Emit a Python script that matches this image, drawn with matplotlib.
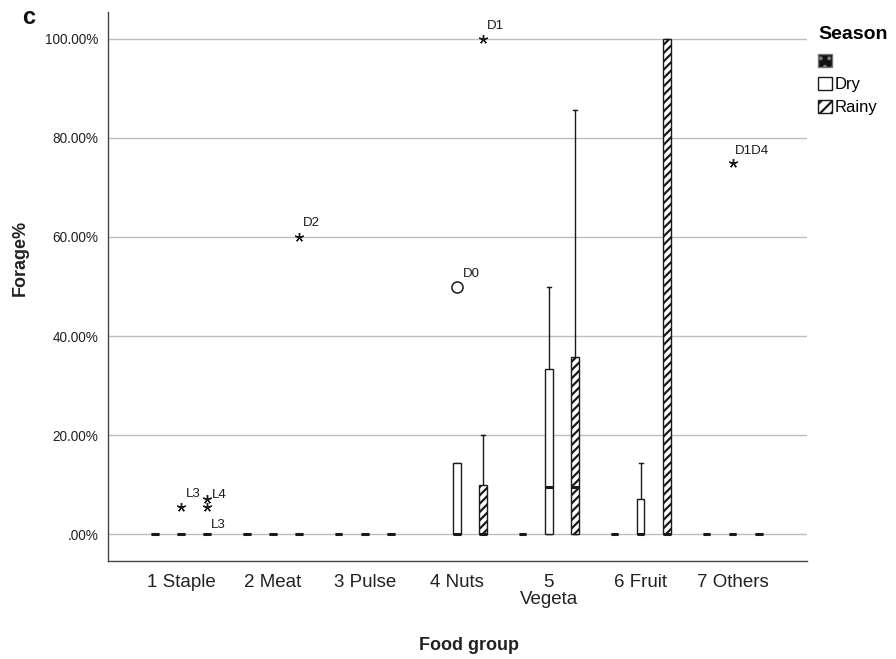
import matplotlib
matplotlib.use("Agg")
import matplotlib.pyplot as plt
from matplotlib.patches import Patch
from matplotlib.ticker import FuncFormatter

plt.rcParams['font.family'] = ['Liberation Sans', 'DejaVu Sans']
plt.rcParams['hatch.linewidth'] = 1.6

# data (Forage % by food group and season)
categories = ["1 Staple", "2 Meat", "3 Pulse", "4 Nuts", "5\nVegeta", "6 Fruit", "7 Others"]
seasons = ["", "Dry", "Rainy"]

# first (unnamed) season group -- None means no cases
blank_q1 = [0, 0, 0, None, 0, 0, 0]
blank_med = [0, 0, 0, None, 0, 0, 0]
blank_q3 = [0, 0, 0, None, 0, 0, 0]
blank_hi = [0, 0, 0, None, 0, 0, 0]

dry_q1 = [0, 0, 0, 0, 0, 0, 0]
dry_med = [0, 0, 0, 0, 9.52, 0, 0]
dry_q3 = [0, 0, 0, 14.29, 33.33, 7.14, 0]
dry_hi = [0, 0, 0, 14.29, 50.0, 14.29, 0]

rainy_q1 = [0, 0, 0, 0, 0, 0, 0]
rainy_med = [0, 0, 0, 0, 9.52, 0, 0]
rainy_q3 = [0, 0, 0, 10.0, 35.71, 100.0, 0]
rainy_hi = [0, 0, 0, 20.0, 85.71, 100.0, 0]

# outliers: category (1-based), season index, value, marker, case label
out_cat = [1, 1, 1, 2, 4, 4, 7]
out_grp = [1, 2, 2, 2, 1, 2, 1]
out_val = [5.56, 7.14, 5.56, 60.0, 50.0, 100.0, 75.0]
out_kind = ['*', '*', '*', '*', 'o', '*', '*']
out_lab = ['L3', 'L4', 'L3', 'D2', 'D0', 'D1', 'D1D4']
lab_dx = [5, 5, 4, 4, 6, 4, 2]
lab_dy = [13, 4, -18, 14, 13, 13, 12]

yticks = [0, 20, 40, 60, 80, 100]

offsets = [-0.283, 0.0, 0.283]
box_w = 0.078

fig = plt.figure(figsize=(8.96, 6.59), dpi=100)
ax = fig.add_axes([0.1205, 0.1487, 0.78, 0.8331])

series = [
    (blank_q1, blank_med, blank_q3, blank_hi, dict(facecolor='#111111', hatch=None)),
    (dry_q1, dry_med, dry_q3, dry_hi, dict(facecolor='white', hatch=None)),
    (rainy_q1, rainy_med, rainy_q3, rainy_hi, dict(facecolor='white', hatch='////')),
]

for g, (q1s, meds, q3s, his, style) in enumerate(series):
    stats, pos = [], []
    for i in range(len(categories)):
        if q3s[i] is None:
            continue
        stats.append(dict(q1=q1s[i], med=meds[i], q3=q3s[i],
                          whislo=q1s[i], whishi=his[i], fliers=[]))
        pos.append(i + 1 + offsets[g])
    art = ax.bxp(stats, positions=pos, widths=box_w, patch_artist=True,
                 showfliers=False, capwidths=0.04,
                 boxprops=dict(edgecolor='#1a1a1a', linewidth=1.0),
                 medianprops=dict(color='#1a1a1a', linewidth=2.2),
                 whiskerprops=dict(color='#1a1a1a', linewidth=1.0),
                 capprops=dict(color='#1a1a1a', linewidth=1.0))
    for b in art['boxes']:
        b.set_facecolor(style['facecolor'])
        if style['hatch']:
            b.set_hatch(style['hatch'])
        b.set_zorder(3)
    for m in art['medians']:
        m.set_zorder(4)

for c, g, v, k, lab, dx, dy in zip(out_cat, out_grp, out_val, out_kind, out_lab, lab_dx, lab_dy):
    x = c + offsets[g]
    if k == 'o':
        ax.plot(x, v, marker='o', markersize=8, markerfacecolor='white',
                markeredgecolor='#1a1a1a', markeredgewidth=1.1, zorder=5)
    else:
        ax.plot(x, v, marker=(5, 2, 0), markersize=6.5, color='#1a1a1a',
                markeredgewidth=1.0, zorder=5)
    ax.annotate(lab, (x, v), xytext=(dx, dy), textcoords='offset pixels',
                ha='left', va='center', fontsize=9.5, color='#1a1a1a')

ax.set_xlim(0.2065, 7.804)
ax.set_ylim(-5.45, 105.45)
ax.set_yticks(yticks)
ax.yaxis.set_major_formatter(FuncFormatter(lambda v, p: ("%.2f%%" % v).lstrip('0') if v == 0 else "%.2f%%" % v))
ax.set_xticks(range(1, len(categories) + 1))
ax.set_xticklabels(categories, fontsize=13.5, linespacing=1.0)
ax.tick_params(axis='y', length=0, pad=7, labelsize=9.8, labelcolor='#222222')
ax.tick_params(axis='x', length=0, pad=9, labelcolor='#222222')
ax.grid(axis='y', color='#bdbdbd', linewidth=1.0, zorder=0)
ax.set_axisbelow(True)
for s in ['top', 'right']:
    ax.spines[s].set_visible(False)
for s in ['left', 'bottom']:
    ax.spines[s].set_color('#444444')
    ax.spines[s].set_linewidth(1.0)

fig.text(469 / 896, 1 - 645 / 659, "Food group", ha='center', va='center',
         fontsize=13, fontweight='bold', color='#222222')
fig.text(20 / 896, 1 - 258 / 659, "Forage%", ha='center', va='center',
         rotation=90, fontsize=13, fontweight='bold', color='#222222')
fig.text(29 / 896, 1 - 17 / 659, "c", ha='center', va='center',
         fontsize=17, fontweight='bold', color='#111111')

handles = [Patch(facecolor='#111111', edgecolor='#777777', hatch='..'),
           Patch(facecolor='white', edgecolor='#1a1a1a'),
           Patch(facecolor='white', edgecolor='#1a1a1a', hatch='///')]
leg = fig.legend(handles, seasons, loc='upper left', bbox_to_anchor=(818 / 896, 1 - 26 / 659),
                 frameon=False, title="Season", alignment='left', fontsize=12,
                 handlelength=0.85, handleheight=0.85, handletextpad=0.15,
                 labelspacing=0.45, borderaxespad=0, borderpad=0)
leg.get_title().set_fontweight('bold')
leg.get_title().set_fontsize(14)
leg._legend_box.sep = 8

fig.savefig("out.png", dpi=100)
